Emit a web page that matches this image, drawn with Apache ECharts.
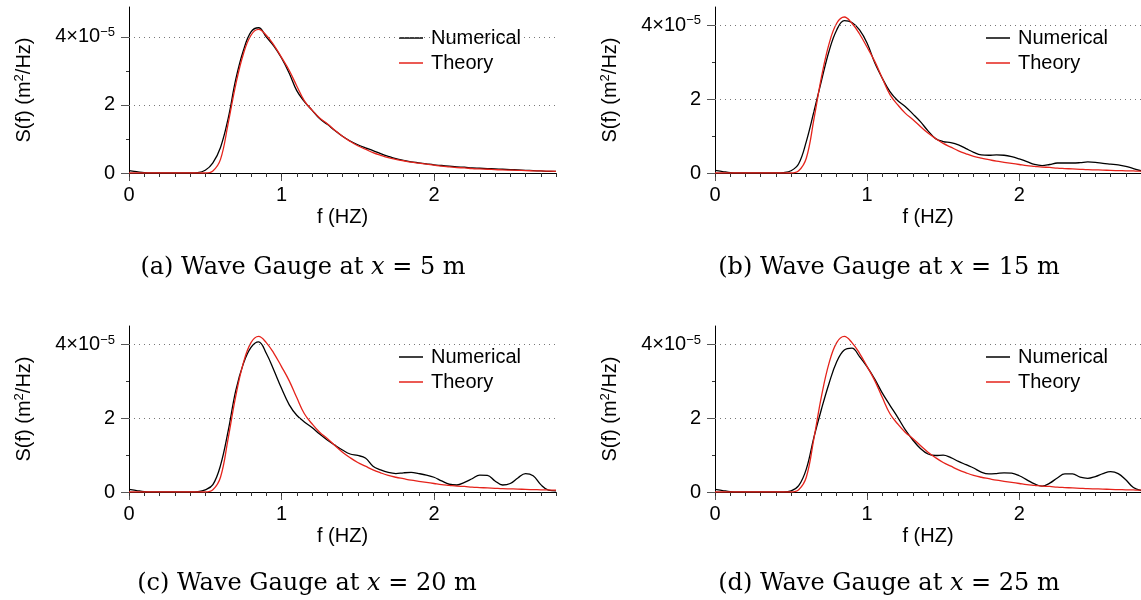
<!DOCTYPE html>
<html>
<head>
<meta charset="utf-8">
<title>Wave gauge spectra</title>
<script src="https://cdn.jsdelivr.net/npm/echarts@6/dist/echarts.min.js"></script>
<style>
  html, body { margin: 0; padding: 0; background: #fff; }
  #main { width: 1141px; height: 600px; }
</style>
</head>
<body>
<div id="main"></div>
<script>
// frequency f (Hz)
const freq = [0, 0.05, 0.1, 0.15, 0.2, 0.25, 0.3, 0.35, 0.4, 0.45,
  0.5, 0.55, 0.6, 0.65, 0.7, 0.75, 0.8, 0.85, 0.9, 0.95,
  1, 1.05, 1.1, 1.15, 1.2, 1.25, 1.3, 1.35, 1.4, 1.45,
  1.5, 1.55, 1.6, 1.65, 1.7, 1.75, 1.8, 1.85, 1.9, 1.95,
  2, 2.05, 2.1, 2.15, 2.2, 2.25, 2.3, 2.35, 2.4, 2.45,
  2.5, 2.55, 2.6, 2.65, 2.7, 2.75, 2.8];

// S(f) in units of 1e-5 m^2/Hz
const theory = [0, 0, 0, 0, 0, 0, 0, 0, 0, 0,
  0, 0.06, 0.4, 1.45, 2.6, 3.5, 4.05, 4.22, 4.05, 3.76,
  3.4, 3.02, 2.56, 2.12, 1.85, 1.62, 1.45, 1.26, 1.08, 0.93,
  0.8, 0.7, 0.6, 0.52, 0.45, 0.4, 0.36, 0.32, 0.29, 0.26,
  0.23, 0.2, 0.18, 0.16, 0.15, 0.13, 0.12, 0.11, 0.1, 0.09,
  0.085, 0.08, 0.07, 0.065, 0.06, 0.055, 0.05];

const numX5 = [0.07, 0.04, 0.01, 0, 0, 0, 0, 0, 0, 0.01,
  0.08, 0.3, 0.75, 1.6, 2.75, 3.6, 4.15, 4.27, 4.0, 3.73,
  3.38, 2.94, 2.42, 2.1, 1.85, 1.6, 1.43, 1.25, 1.08, 0.94,
  0.83, 0.74, 0.66, 0.57, 0.49, 0.42, 0.37, 0.33, 0.3, 0.27,
  0.24, 0.22, 0.2, 0.18, 0.17, 0.15, 0.14, 0.13, 0.12, 0.11,
  0.1, 0.09, 0.08, 0.07, 0.06, 0.05, 0.05];

const numX15 = [0.07, 0.04, 0.01, 0, 0, 0, 0, 0, 0, 0.01,
  0.06, 0.25, 0.85, 1.66, 2.5, 3.3, 3.87, 4.12, 4.07, 3.87,
  3.51, 2.98, 2.56, 2.2, 1.96, 1.8, 1.6, 1.39, 1.14, 0.93,
  0.85, 0.82, 0.76, 0.66, 0.56, 0.49, 0.48, 0.49, 0.48, 0.44,
  0.38, 0.31, 0.23, 0.2, 0.23, 0.27, 0.27, 0.27, 0.28, 0.3,
  0.29, 0.26, 0.24, 0.22, 0.18, 0.12, 0.06];

const numX20 = [0.07, 0.04, 0.01, 0, 0, 0, 0, 0, 0, 0.01,
  0.06, 0.2, 0.72, 1.65, 2.75, 3.48, 3.92, 4.07, 3.76, 3.3,
  2.81, 2.37, 2.08, 1.9, 1.75, 1.57, 1.41, 1.27, 1.14, 1.03,
  0.99, 0.92, 0.7, 0.6, 0.53, 0.5, 0.52, 0.53, 0.5, 0.46,
  0.4, 0.3, 0.21, 0.19, 0.26, 0.36, 0.46, 0.45, 0.3, 0.19,
  0.23, 0.38, 0.5, 0.44, 0.2, 0.05, 0.03];

const numX25 = [0.07, 0.04, 0.01, 0, 0, 0, 0, 0, 0, 0,
  0.03, 0.17, 0.62, 1.48, 2.25, 2.95, 3.53, 3.85, 3.9, 3.67,
  3.39, 3.06, 2.68, 2.35, 2.03, 1.69, 1.41, 1.18, 1.03, 0.99,
  1.0, 0.93, 0.83, 0.74, 0.65, 0.54, 0.49, 0.5, 0.52, 0.51,
  0.44, 0.33, 0.22, 0.16, 0.24, 0.38, 0.49, 0.49, 0.4, 0.37,
  0.42, 0.5, 0.55, 0.5, 0.33, 0.12, 0.04];

const numerical = [numX5, numX15, numX20, numX25];
const gaugeX = [5, 15, 20, 25];
const panelTags = ['a', 'b', 'c', 'd'];

// ticks
const xMajorTicks = [0, 1, 2];
const yMajorTicks = [0, 2, 4];
const yMinorTicks = [1, 3];
const yGridLines = [2, 4];

const font = '"Liberation Sans", Arial, Helvetica, sans-serif';
const serif = '"DejaVu Serif", "Liberation Serif", serif';

// layout of the four sub-figures
const panels = [
  {grid: {left: 129, top: 7, width: 427, height: 166}, yMax: 4.88, legend: {left: 399, top: 27}, caption: {left: 298, top: 251}},
  {grid: {left: 715, top: 7, width: 426, height: 166}, yMax: 4.49, legend: {left: 986, top: 27}, caption: {left: 884, top: 251}},
  {grid: {left: 129, top: 326, width: 427, height: 166}, yMax: 4.5, legend: {left: 399, top: 346}, caption: {left: 302, top: 567}},
  {grid: {left: 715, top: 326, width: 426, height: 166}, yMax: 4.5, legend: {left: 986, top: 346}, caption: {left: 884, top: 567}}
];

const chart = echarts.init(document.getElementById('main'));

const grid = [], xAxis = [], yAxis = [], series = [], legend = [], title = [];

panels.forEach((p, i) => {
  grid.push(p.grid);

  // main x axis
  xAxis.push({
    type: 'value', gridIndex: i, min: 0, max: 2.8, interval: 1,
    name: 'f (HZ)', nameLocation: 'middle', nameGap: 34,
    nameTextStyle: {fontFamily: font, fontSize: 20, color: '#000'},
    axisLine: {show: true, onZero: false, lineStyle: {color: '#000', width: 1}},
    axisTick: {show: true, length: 8, customValues: xMajorTicks, lineStyle: {color: '#555'}},
    axisLabel: {customValues: xMajorTicks, margin: 12, fontFamily: font, fontSize: 20, color: '#000'},
    splitLine: {show: false}
  });
  // minor x ticks
  xAxis.push({
    type: 'value', gridIndex: i, min: 0, max: 2.8, interval: 0.1, position: 'bottom',
    axisLine: {show: false, onZero: false},
    axisTick: {show: true, length: 4, lineStyle: {color: '#333'}},
    axisLabel: {show: false},
    splitLine: {show: false}
  });

  // main y axis
  yAxis.push({
    type: 'value', gridIndex: i, min: 0, max: p.yMax, interval: 2,
    name: 'S(f) (m{sup|2}/Hz)', nameLocation: 'middle', nameGap: 94,
    nameTextStyle: {
      fontFamily: font, fontSize: 20, color: '#000',
      rich: {sup: {fontFamily: font, fontSize: 13, color: '#000', padding: [0, 0, 9, 0]}}
    },
    axisLine: {show: true, lineStyle: {color: '#000', width: 1}},
    axisTick: {show: true, length: 8, customValues: yMajorTicks, lineStyle: {color: '#555'}},
    axisLabel: {
      customValues: yMajorTicks, margin: 14, fontFamily: font, fontSize: 20, color: '#000',
      formatter: v => v === 4 ? '4×10{sup|−5}' : String(v),
      rich: {sup: {fontFamily: font, fontSize: 13, color: '#000', padding: [0, 0, 9, 0]}}
    },
    splitLine: {show: false}
  });
  // minor y ticks
  yAxis.push({
    type: 'value', gridIndex: i, min: 0, max: p.yMax, interval: 1, position: 'left',
    axisLine: {show: false},
    axisTick: {show: true, length: 3, customValues: yMinorTicks, lineStyle: {color: '#333'}},
    axisLabel: {show: false},
    splitLine: {show: false}
  });

  series.push({
    name: 'Numerical', type: 'line', xAxisIndex: 2 * i, yAxisIndex: 2 * i,
    data: freq.map((f, k) => [f, numerical[i][k]]),
    smooth: 0.4, symbol: 'none', lineStyle: {color: '#000', width: 1.3}, itemStyle: {color: '#000'},
    // dotted horizontal grid lines at 2 and 4
    markLine: {
      silent: true, symbol: 'none', label: {show: false},
      lineStyle: {color: '#777', type: [1, 4], width: 1},
      data: yGridLines.map(v => ({yAxis: v}))
    }
  });
  series.push({
    name: 'Theory', type: 'line', xAxisIndex: 2 * i, yAxisIndex: 2 * i,
    data: freq.map((f, k) => [f, theory[k]]),
    smooth: 0.4, symbol: 'none', lineStyle: {color: '#e5231b', width: 1.3}, itemStyle: {color: '#e5231b'}
  });

  legend.push({
    left: p.legend.left, top: p.legend.top, orient: 'vertical', padding: 0,
    data: [{name: 'Numerical', icon: 'rect'}, {name: 'Theory', icon: 'rect'}],
    itemWidth: 24, itemHeight: 1.5, itemGap: 3,
    selectedMode: false,
    textStyle: {fontFamily: font, fontSize: 20, color: '#000', padding: [0, 0, 0, 3], lineHeight: 22}
  });

  title.push({
    text: '(' + panelTags[i] + ') Wave Gauge at {it|x} = ' + gaugeX[i] + ' m',
    left: p.caption.left, top: p.caption.top, textAlign: 'center',
    textStyle: {
      fontFamily: serif, fontSize: 24, fontWeight: 'normal', color: '#000',
      rich: {it: {fontFamily: serif, fontSize: 24, fontStyle: 'italic', color: '#000'}}
    }
  });
});

chart.setOption({
  backgroundColor: '#fff',
  animation: false,
  title: title,
  legend: legend,
  grid: grid,
  xAxis: xAxis,
  yAxis: yAxis,
  series: series
});
</script>
</body>
</html>
